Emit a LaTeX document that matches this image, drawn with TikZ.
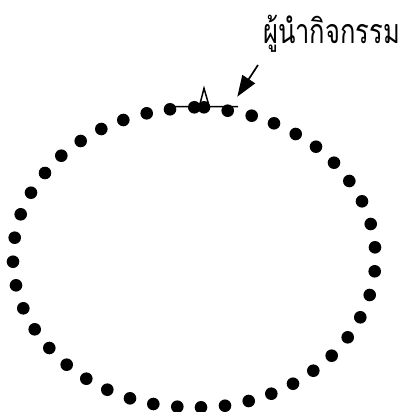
\documentclass[tikz,border=0pt]{standalone}
\usepackage{fontspec}
\newfontfamily\thaifont[Script=Thai]{Loma}
\usetikzlibrary{arrows.meta}
\begin{document}
\begin{tikzpicture}[x=1pt,y=-1pt,
  dotmark/.style={fill=black},
  leaderline/.style={line width=1.5pt,line join=miter},
  pointer/.style={line width=1.7pt,-{Triangle[length=21pt,width=15pt]}},
  lbl/.style={font=\thaifont\fontsize{34}{38}\selectfont,inner sep=0pt,anchor=base west}]
\useasboundingbox (0,0) rectangle (409,412);
% leader (table) line with peak
\draw[leaderline] (167,106.7) -- (199.3,106.7) -- (204,88.3) -- (209.3,106.7) -- (238,106.7);
% dots around the ellipse
\foreach \x/\y in {170.0/109.3,194.3/107.3,204.0/107.3,227.7/110.7,251.7/115.7,274.0/123.3,
  295.7/134.0,316.0/146.7,334.0/162.7,349.3/181.0,362.0/201.3,370.7/224.0,375.0/247.3,
  374.7/271.3,369.7/295.0,360.3/317.3,347.7/337.3,331.7/355.7,313.3/370.7,293.0/383.7,
  271.3/393.7,248.7/401.0,225.0/405.7,201.0/407.3,177.3/406.7,153.3/404.0,130.0/398.3,
  107.3/389.7,86.3/378.7,66.7/364.7,49.3/348.0,34.7/329.3,23.3/308.3,16.0/285.3,
  13.0/261.7,14.7/237.7,20.7/214.3,31.0/192.7,45.0/173.0,61.3/155.7,80.7/141.0,
  101.3/129.0,123.3/120.0,146.7/113.3}
  \fill[dotmark] (\x,\y) circle (6.3);
% label and arrow
\node[lbl] (leader) at (263,44) {\scalebox{0.75}[1]{ผู้นำกิจกรรม}};
\coordinate (tail) at (258,65);
\coordinate (tip) at (237.3,96.7);
\draw[pointer] (tail) -- (tip);
\end{tikzpicture}
\end{document}
